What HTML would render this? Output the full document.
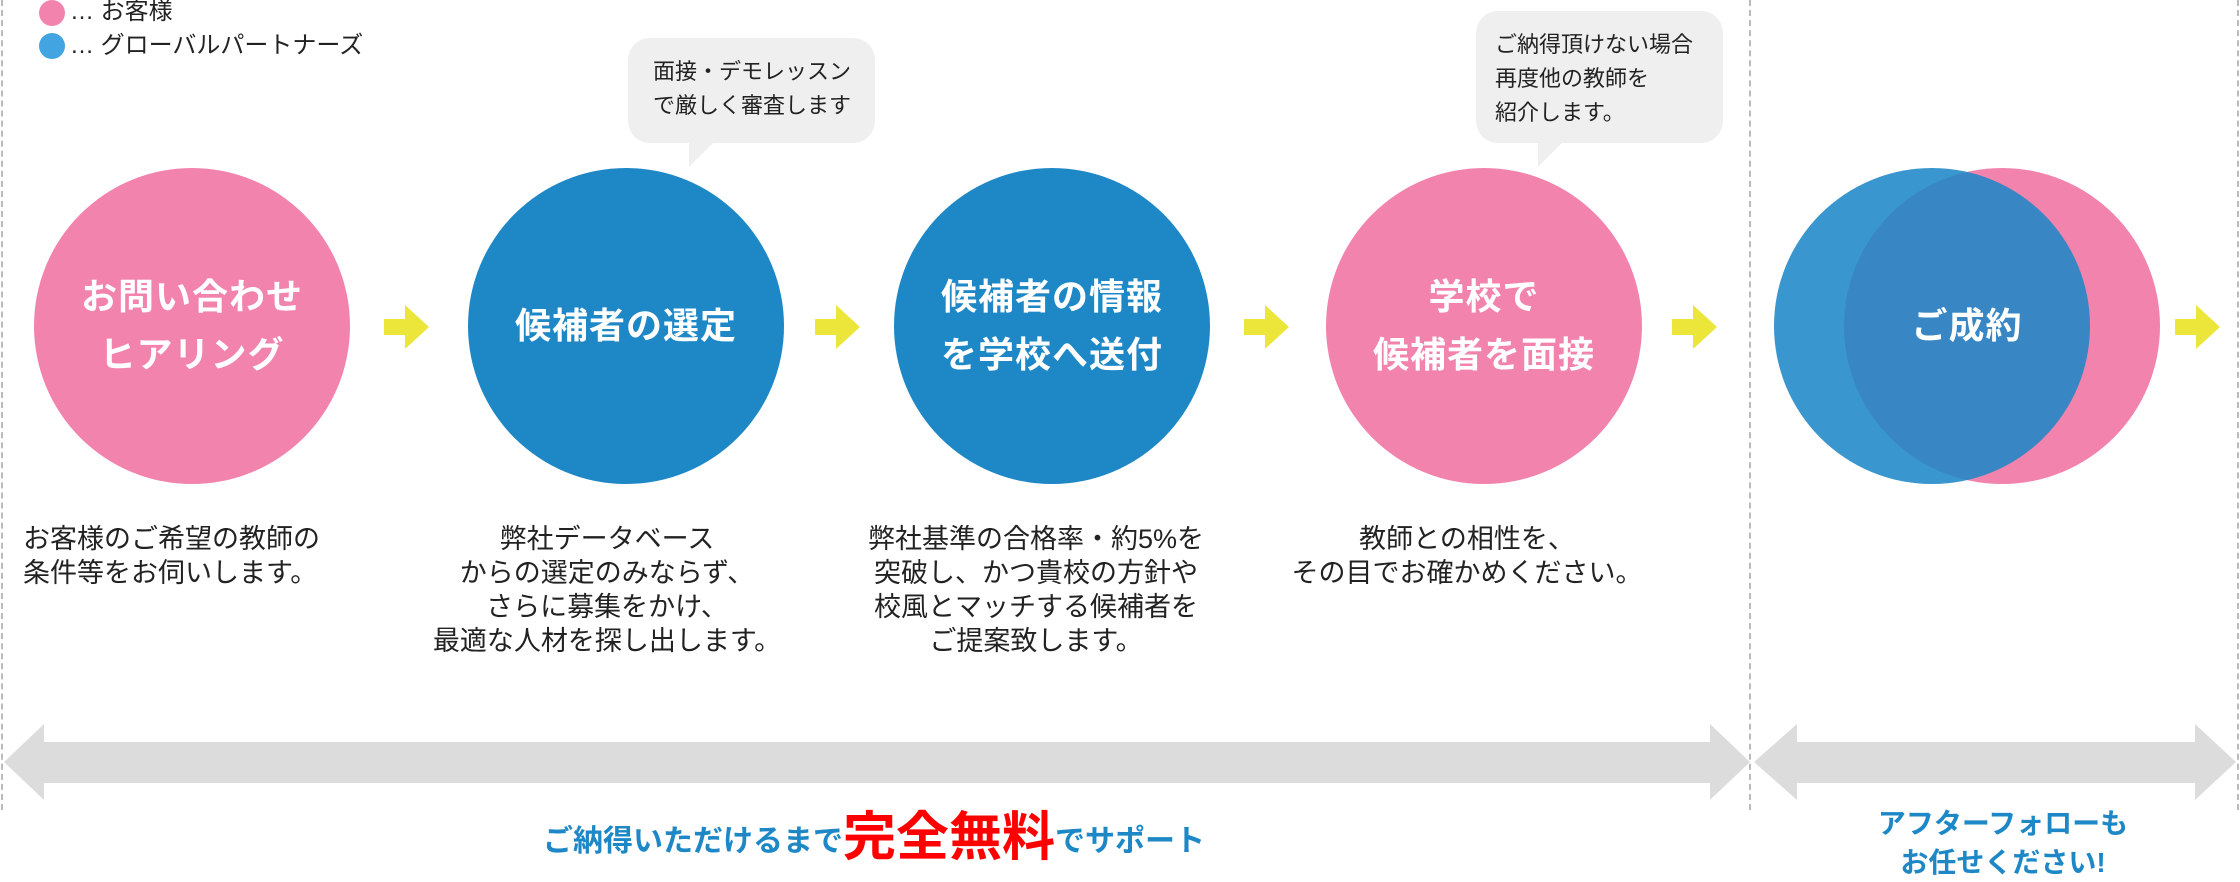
<!DOCTYPE html>
<html><head><meta charset="utf-8"><style>
body{margin:0;width:2240px;height:877px;background:#fff;position:relative;overflow:hidden;font-family:"Liberation Sans","Noto Sans CJK JP",sans-serif;}
.a{position:absolute;}
.c{position:absolute;border-radius:50%;width:316px;height:316px;color:#fff;font-weight:bold;font-size:36px;display:flex;align-items:center;justify-content:center;text-align:center;line-height:58px;letter-spacing:1px}
.d{position:absolute;font-size:27px;line-height:34px;color:#222;white-space:nowrap}
.b{position:absolute;background:#efefef;border-radius:22px;font-size:22px;line-height:34px;color:#222;white-space:nowrap}
.dash{position:absolute;top:0;height:810px;border-left:2px dashed #bbb;width:0}
</style></head><body>
<div class="dash" style="left:1px"></div>
<div class="dash" style="left:1749px"></div>
<div class="dash" style="left:2237px"></div>

<div class="a" style="left:39px;top:0;width:26px;height:26px;border-radius:50%;background:#f283ad"></div>
<div class="a" style="left:39px;top:33px;width:26px;height:26px;border-radius:50%;background:#42a4e0"></div>
<div class="a" style="left:70px;top:-3px;font-size:24px;line-height:30px;color:#222">… お客様</div>
<div class="a" style="left:70px;top:31px;font-size:24px;line-height:30px;color:#222">… グローバルパートナーズ</div>

<div class="c" style="left:34px;top:168px;background:#f283ad">お問い合わせ<br>ヒアリング</div>
<div class="c" style="left:468px;top:168px;background:#1e88c7">候補者の選定</div>
<div class="c" style="left:894px;top:168px;background:#1e88c7">候補者の情報<br>を学校へ送付</div>
<div class="c" style="left:1326px;top:168px;background:#f283ad">学校で<br>候補者を面接</div>
<div class="c" style="left:1844px;top:168px;background:#f283ad"></div>
<div class="c" style="left:1774px;top:168px;background:rgba(30,136,199,0.88)"></div>
<div class="c" style="left:1774px;top:168px;width:386px">ご成約</div>

<svg class="a" style="left:0;top:0" width="2240" height="877">
<g fill="#ede63a">
<polygon points="384,319 405,319 405,305 429,327 405,349 405,335 384,335"/>
<polygon points="815,319 836,319 836,305 860,327 836,349 836,335 815,335"/>
<polygon points="1244,319 1265,319 1265,305 1289,327 1265,349 1265,335 1244,335"/>
<polygon points="1672,319 1693,319 1693,305 1717,327 1693,349 1693,335 1672,335"/>
<polygon points="2175,319 2196,319 2196,305 2220,327 2196,349 2196,335 2175,335"/>
</g>
<g fill="#dcdcdc">
<polygon points="4,762 44,724 44,742 1710,742 1710,724 1750,762 1710,800 1710,783 44,783 44,800"/>
<polygon points="1754,762 1797,724 1797,742 2195,742 2195,724 2236,762 2195,800 2195,783 1797,783 1797,800"/>
</g>
<g fill="#efefef">
<polygon points="689,167 689,140 716,140"/>
<polygon points="1538,167 1538,140 1565,140"/>
</g>
</svg>

<div class="b" style="left:628px;top:38px;width:247px;height:105px;padding:0;"><div style="position:absolute;left:25px;top:17px">面接・デモレッスン<br>で厳しく審査します</div></div>
<div class="b" style="left:1476px;top:11px;width:247px;height:132px"><div style="position:absolute;left:19px;top:17px">ご納得頂けない場合<br>再度他の教師を<br>紹介します。</div></div>

<div class="d" style="left:23px;top:522px">お客様のご希望の教師の<br>条件等をお伺いします。</div>
<div class="d" style="left:407px;top:522px;width:400px;text-align:center">弊社データベース<br>からの選定のみならず、<br>さらに募集をかけ、<br>最適な人材を探し出します。</div>
<div class="d" style="left:836px;top:522px;width:400px;text-align:center">弊社基準の合格率・約5%を<br>突破し、かつ貴校の方針や<br>校風とマッチする候補者を<br>ご提案致します。</div>
<div class="d" style="left:1267px;top:522px;width:400px;text-align:center">教師との相性を、<br>その目でお確かめください。</div>

<div class="a" style="left:474px;top:808px;width:800px;text-align:center;color:#1e88c7;font-weight:bold;font-size:30px;line-height:60px;white-space:nowrap">ご納得いただけるまで<span style="color:#f00;font-size:53px;vertical-align:-4px">完全無料</span>でサポート</div>
<div class="a" style="left:1803px;top:804px;width:400px;text-align:center;color:#1e88c7;font-weight:bold;font-size:28px;line-height:39px">アフターフォローも<br>お任せください!</div>
</body></html>
